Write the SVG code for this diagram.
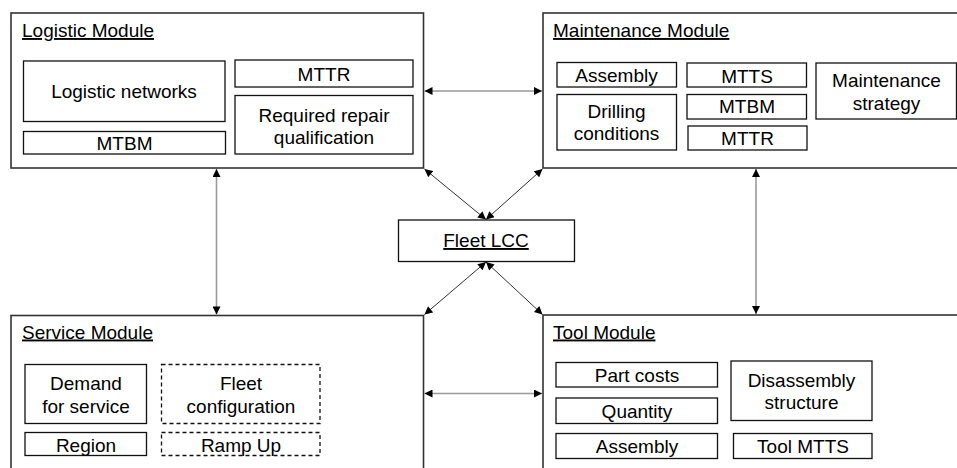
<svg xmlns="http://www.w3.org/2000/svg" width="957" height="468" viewBox="0 0 957 468">
<defs>
<style>
.mod{fill:#fff;stroke:#333;stroke-width:1.6}
.box{fill:#fff;stroke:#111;stroke-width:1.3}
.dash{fill:#fff;stroke:#111;stroke-width:1.3;stroke-dasharray:4 3}
text{font-family:"Liberation Sans",Arial,sans-serif;font-size:19px;fill:#000}
.c{text-anchor:middle}
.u{text-decoration:underline}
.v{stroke:#999;stroke-width:1.6;fill:none}
.d{stroke:#333;stroke-width:1;fill:none}
</style>
<marker id="ah" viewBox="0 0 10 10" refX="10" refY="5" markerWidth="9" markerHeight="8" markerUnits="userSpaceOnUse" orient="auto-start-reverse">
<path d="M0,0 L10,5 L0,10 Z" fill="#000"/>
</marker>
</defs>

<g id="logistic-module">
<rect class="mod" x="11" y="13" width="412.5" height="155"/>
<text class="u" x="22" y="37">Logistic Module</text>
<rect class="box" x="23.5" y="61" width="201.5" height="60.5"/>
<text class="c" x="124" y="98">Logistic networks</text>
<rect class="box" x="23.5" y="131.5" width="202" height="22.5"/>
<text class="c" x="124.5" y="150">MTBM</text>
<rect class="box" x="235" y="60" width="178" height="27"/>
<text class="c" x="324" y="81">MTTR</text>
<rect class="box" x="235" y="95.5" width="178" height="58.5"/>
<text class="c" x="324" y="121.5">Required repair</text>
<text class="c" x="324" y="143.5">qualification</text>
</g>

<g id="maintenance-module">
<rect class="mod" x="543" y="13" width="430" height="155"/>
<text class="u" x="553" y="37">Maintenance Module</text>
<rect class="box" x="557" y="62.5" width="119.5" height="24.5"/>
<text class="c" x="616.5" y="82">Assembly</text>
<rect class="box" x="557" y="94.5" width="119.5" height="55.5"/>
<text class="c" x="616.5" y="118">Drilling</text>
<text class="c" x="616.5" y="140">conditions</text>
<rect class="box" x="687" y="63" width="119.5" height="24"/>
<text class="c" x="747" y="82.5">MTTS</text>
<rect class="box" x="687" y="94.5" width="119.5" height="24.5"/>
<text class="c" x="747" y="113">MTBM</text>
<rect class="box" x="688" y="126" width="119" height="24"/>
<text class="c" x="747.5" y="144.5">MTTR</text>
<rect class="box" x="816" y="63" width="140.5" height="56"/>
<text class="c" x="886.5" y="87">Maintenance</text>
<text class="c" x="886.5" y="110">strategy</text>
</g>

<g id="fleet-lcc">
<rect class="box" x="398.5" y="220" width="176" height="41.5"/>
<text class="c u" x="486" y="247">Fleet LCC</text>
</g>

<g id="service-module">
<rect class="mod" x="11" y="315.5" width="412.5" height="170"/>
<text class="u" x="22" y="338.5">Service Module</text>
<rect class="box" x="25" y="364.5" width="121.5" height="59"/>
<text class="c" x="86" y="390">Demand</text>
<text class="c" x="86" y="412.5">for service</text>
<rect class="box" x="25" y="432.5" width="121.5" height="23"/>
<text class="c" x="86" y="451.5">Region</text>
<rect class="dash" x="161.5" y="364.5" width="158.5" height="59"/>
<text class="c" x="241" y="390">Fleet</text>
<text class="c" x="241" y="412.5">configuration</text>
<rect class="dash" x="161.5" y="432.5" width="158.5" height="23"/>
<text class="c" x="241" y="451.5">Ramp Up</text>
</g>

<g id="tool-module">
<rect class="mod" x="543" y="315" width="430" height="170"/>
<text class="u" x="553" y="338.5">Tool Module</text>
<rect class="box" x="556" y="362.5" width="161.5" height="24.5"/>
<text class="c" x="637" y="381.5">Part costs</text>
<rect class="box" x="556" y="398" width="161.5" height="25.5"/>
<text class="c" x="637" y="417.5">Quantity</text>
<rect class="box" x="556" y="433.5" width="161.5" height="25"/>
<text class="c" x="637" y="452.5">Assembly</text>
<rect class="box" x="731" y="361" width="141" height="59.5"/>
<text class="c" x="801.5" y="387">Disassembly</text>
<text class="c" x="801.5" y="409">structure</text>
<rect class="box" x="733.5" y="433.5" width="138.5" height="25"/>
<text class="c" x="803" y="452.5">Tool MTTS</text>
</g>

<g id="connectors">
<line class="v" x1="424.5" y1="91" x2="542" y2="91" marker-start="url(#ah)" marker-end="url(#ah)"/>
<line class="v" x1="424.5" y1="393.5" x2="542" y2="393.5" marker-start="url(#ah)" marker-end="url(#ah)"/>
<line class="v" x1="216.5" y1="169" x2="216.5" y2="314.5" marker-start="url(#ah)" marker-end="url(#ah)"/>
<line class="v" x1="756" y1="169" x2="756" y2="314" marker-start="url(#ah)" marker-end="url(#ah)"/>
<line class="d" x1="424.5" y1="169" x2="486" y2="219.5" marker-start="url(#ah)" marker-end="url(#ah)"/>
<line class="d" x1="542.5" y1="169" x2="486" y2="219.5" marker-start="url(#ah)" marker-end="url(#ah)"/>
<line class="d" x1="486" y1="262" x2="424.5" y2="314.5" marker-start="url(#ah)" marker-end="url(#ah)"/>
<line class="d" x1="486" y1="262" x2="542.5" y2="314.5" marker-start="url(#ah)" marker-end="url(#ah)"/>
</g>
</svg>
